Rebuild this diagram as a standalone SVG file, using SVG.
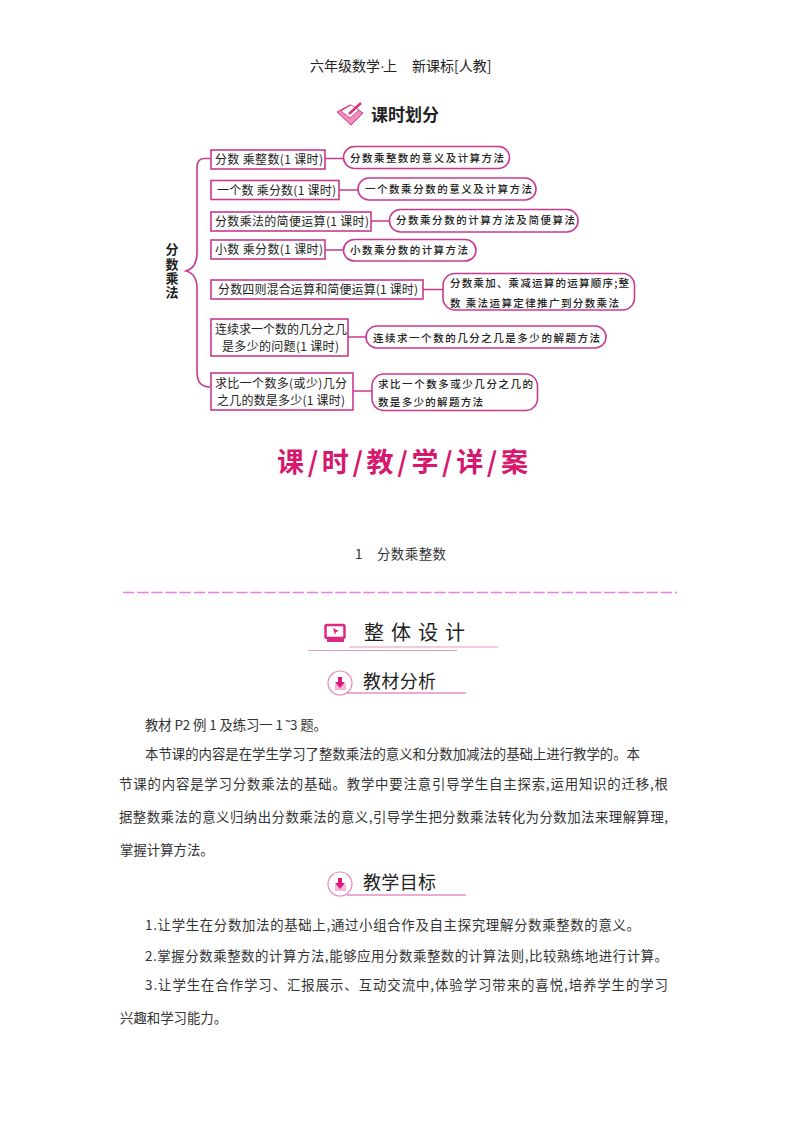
<svg xmlns="http://www.w3.org/2000/svg" width="800" height="1132" viewBox="0 0 800 1132">
<style>
text{font-family:"Noto Sans CJK SC","Liberation Sans",sans-serif;fill:#222}
.b{font-size:12px}
.p{font-size:10.5px;font-weight:500}
.t{font-size:13.4px;fill:#333}
.s{fill:#fff;stroke:#c93a8e;stroke-width:1.6}
.c{fill:none;stroke:#c93a8e;stroke-width:1.6}
</style>
<rect width="800" height="1132" fill="#fff"/>
<text id="header" font-size="14" x="310" y="71">六年级数学<tspan style="font-family:'Liberation Sans',sans-serif">·</tspan><tspan x="383">上</tspan><tspan x="412">新课标[人教]</tspan></text>
<g id="title-plan">
<path d="M337 112L350 105L363 113L351 125Z" fill="#ee8fbd" stroke="#d6307f"/>
<path d="M341 111L351 105L359 110L350 118Z" fill="#fff" stroke="#d6307f" stroke-width=".8"/>
<path d="M349 114L361 103" stroke="#d6307f" stroke-width="2.4"/>
<text x="371" y="121" font-size="17" font-weight="700" textLength="68" lengthAdjust="spacing">课时划分</text>
</g>
<g id="connectors">
<path class="c" d="M210 158.500H204Q197 158.500 197 168V252Q197 268 186 271Q197 274 197 288V372Q197 387 210 387"/>
<path class="c" d="M325 158.500H343M339 190H358M371 221H389M325 250H343M423 289.500H443M348 337H366M353 391H372"/>
</g>
<text id="root" x="172" y="243" font-size="13" font-weight="700" letter-spacing="1.300" writing-mode="vertical-rl">分数乘法</text>
<g id="n1"><rect class="s" x="211" y="150" width="114" height="19"/><text class="b" x="215" y="164" textLength="108" lengthAdjust="spacing">分数 乘整数(1 课时)</text></g>
<g id="n2"><rect class="s" x="211" y="180.500" width="128" height="19"/><text class="b" x="217" y="194.500" textLength="119" lengthAdjust="spacing">一个数 乘分数(1 课时)</text></g>
<g id="n3"><rect class="s" x="211" y="212" width="160" height="19"/><text class="b" x="215" y="226" textLength="154" lengthAdjust="spacing">分数乘法的简便运算(1 课时)</text></g>
<g id="n4"><rect class="s" x="211" y="240" width="114" height="19"/><text class="b" x="215" y="254" textLength="108" lengthAdjust="spacing">小数 乘分数(1 课时)</text></g>
<g id="n5"><rect class="s" x="211" y="280" width="212" height="19"/><text class="b" x="218" y="294" textLength="200" lengthAdjust="spacing">分数四则混合运算和简便运算(1 课时)</text></g>
<g id="n6"><rect class="s" x="211" y="319" width="137" height="37"/><text class="b" x="215" y="334" textLength="132" lengthAdjust="spacing">连续求一个数的几分之几</text><text class="b" x="222" y="351" textLength="117" lengthAdjust="spacing">是多少的问题(1 课时)</text></g>
<g id="n7"><rect class="s" x="211" y="373" width="142" height="37"/><text class="b" x="215" y="388" textLength="132" lengthAdjust="spacing">求比一个数多(或少)几分</text><text class="b" x="217" y="405" textLength="128" lengthAdjust="spacing">之几的数是多少(1 课时)</text></g>
<g id="p1"><rect class="s" x="343.500" y="146.500" width="166" height="22" rx="11"/><text class="p" x="350" y="161.500" textLength="154" lengthAdjust="spacing">分数乘整数的意义及计算方法</text></g>
<g id="p2"><rect class="s" x="358" y="178" width="178" height="22" rx="11"/><text class="p" x="365" y="193" textLength="167" lengthAdjust="spacing">一个数乘分数的意义及计算方法</text></g>
<g id="p3"><rect class="s" x="389.500" y="209.500" width="188.500" height="22.500" rx="11"/><text class="p" x="396" y="224" textLength="179" lengthAdjust="spacing">分数乘分数的计算方法及简便算法</text></g>
<g id="p4"><rect class="s" x="343.500" y="239.500" width="132.500" height="21.500" rx="11"/><text class="p" x="350" y="254" textLength="118" lengthAdjust="spacing">小数乘分数的计算方法</text></g>
<g id="p5"><rect class="s" x="443" y="273.500" width="191.500" height="36.500" rx="12"/><text class="p" x="450" y="287" textLength="179" lengthAdjust="spacing">分数乘加、乘减运算的运算顺序;整</text><text class="p" x="450" y="307" textLength="169" lengthAdjust="spacing">数 乘法运算定律推广到分数乘法</text></g>
<g id="p6"><rect class="s" x="366" y="326" width="240" height="22" rx="11"/><text class="p" x="373" y="342" textLength="227" lengthAdjust="spacing">连续求一个数的几分之几是多少的解题方法</text></g>
<g id="p7"><rect class="s" x="372" y="374" width="165.500" height="36.500" rx="12"/><text class="p" x="378" y="388" textLength="155" lengthAdjust="spacing">求比一个数多或少几分之几的</text><text class="p" x="378" y="406" textLength="105" lengthAdjust="spacing">数是多少的解题方法</text></g>
<text id="banner" x="277" y="472" font-size="27" font-weight="700" style="fill:#d6186f" textLength="251" lengthAdjust="spacing">课/时/教/学/详/案</text>
<text id="lesson" class="t" x="355" y="559" textLength="91" lengthAdjust="spacing">1　分数乘整数</text>
<line id="dash" x1="123" y1="592.500" x2="677" y2="592.500" stroke="#e77fe6" stroke-width="1.600" stroke-dasharray="11.300 2.850"/>
<g id="overall">
<rect x="325.500" y="625" width="19" height="13" rx="1.500" fill="#fff" stroke="#db2a80" stroke-width="2.500"/>
<path d="M333 628L339 631L336 632L335 635Z" fill="#db2a80"/>
<path d="M327 639H344V642H327Z" fill="#db2a80"/>
<text x="364" y="640" font-size="20" textLength="101" lengthAdjust="spacing">整体设计</text>
<path d="M349 647H498" stroke="#e79ac4" stroke-width="1.200"/>
<path d="M308 650.500H457" stroke="#e79ac4" stroke-width="1.200"/>
</g>
<g id="sec1">
<circle cx="340" cy="683" r="12" fill="#fff" stroke="#e58cba" stroke-width="1.200"/>
<path d="M335 684V690H346V684Z" fill="#f4b6d4"/>
<path d="M338 677H342V682H345L340 688L335 682H338Z" fill="#e0167c"/>
<text x="363" y="688" font-size="18" textLength="73" lengthAdjust="spacing">教材分析</text>
<path d="M347 693H466" stroke="#d65aa5" stroke-width="1.200"/>
</g>
<g id="sec2">
<circle cx="340" cy="884" r="12" fill="#fff" stroke="#e58cba" stroke-width="1.200"/>
<path d="M335 885V891H346V885Z" fill="#f4b6d4"/>
<path d="M338 878H342V883H345L340 889L335 883H338Z" fill="#e0167c"/>
<text x="363" y="889" font-size="18" textLength="73" lengthAdjust="spacing">教学目标</text>
<path d="M347 895H466" stroke="#d65aa5" stroke-width="1.200"/>
</g>
<g id="body">
<text class="t" x="145" y="730" textLength="182" lengthAdjust="spacing">教材 P2 例 1 及练习一 1 ˜3 题。</text>
<text class="t" x="145" y="759" textLength="495" lengthAdjust="spacing">本节课的内容是在学生学习了整数乘法的意义和分数加减法的基础上进行教学的。本</text>
<text class="t" x="119" y="789" textLength="549" lengthAdjust="spacing">节课的内容是学习分数乘法的基础。教学中要注意引导学生自主探索,运用知识的迁移,根</text>
<text class="t" x="119" y="822" textLength="549" lengthAdjust="spacing">据整数乘法的意义归纳出分数乘法的意义,引导学生把分数乘法转化为分数加法来理解算理,</text>
<text class="t" x="120" y="855">掌握计算方法。</text>
<text class="t" x="145" y="930" textLength="495" lengthAdjust="spacing">1.让学生在分数加法的基础上,通过小组合作及自主探究理解分数乘整数的意义。</text>
<text class="t" x="145" y="961" textLength="523" lengthAdjust="spacing">2.掌握分数乘整数的计算方法,能够应用分数乘整数的计算法则,比较熟练地进行计算。</text>
<text class="t" x="145" y="990" textLength="523" lengthAdjust="spacing">3.让学生在合作学习、汇报展示、互动交流中,体验学习带来的喜悦,培养学生的学习</text>
<text class="t" x="120" y="1023">兴趣和学习能力。</text>
</g>
</svg>
